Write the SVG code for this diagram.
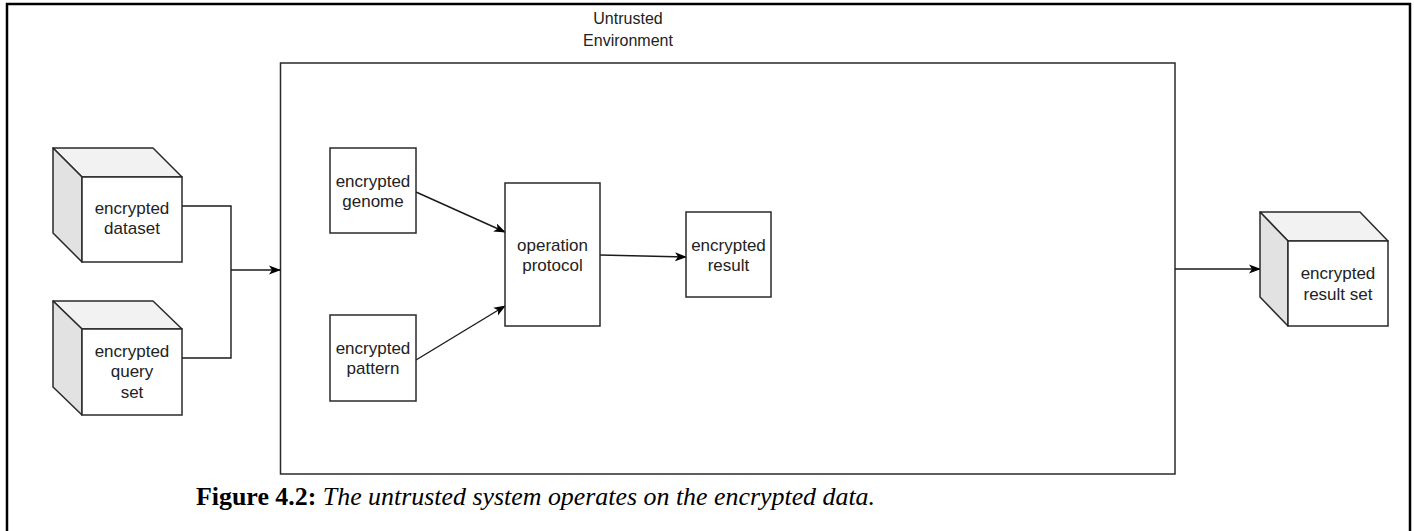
<svg xmlns="http://www.w3.org/2000/svg" width="1414" height="531" viewBox="0 0 1414 531">
  <style>
    .box { fill: #ffffff; stroke: #2a2a2a; stroke-width: 1.5; }
    .top { fill: #f2f2f2; stroke: #2a2a2a; stroke-width: 1.5; stroke-linejoin: round; }
    .side { fill: #e2e2e2; stroke: #2a2a2a; stroke-width: 1.5; stroke-linejoin: round; }
    .lbl { font-family: "Liberation Sans", Arial, sans-serif; font-size: 17px; fill: #222; text-anchor: middle; }
    .env { font-size: 16px; }
    .edge { fill: none; stroke: #1a1a1a; stroke-width: 1.4; }
    .cap { font-family: "Liberation Serif", "Times New Roman", serif; font-size: 25.9px; fill: #000; }
  </style>
  <defs>
    <marker id="arrow" viewBox="0 0 12 10" refX="11" refY="5" markerWidth="12" markerHeight="10" markerUnits="userSpaceOnUse" orient="auto">
      <path d="M0,0.5 L12,5 L0,9.5 L3,5 Z" fill="#000"/>
    </marker>
  </defs>
  <rect width="1414" height="531" fill="#ffffff"/>

  <!-- page frame -->
  <path d="M7,531 V4 H1410 V531" fill="none" stroke="#000" stroke-width="2.5"/>

  <!-- untrusted environment container -->
  <g id="environment">
    <rect class="box" x="280.5" y="63" width="894.5" height="411"/>
    <text class="lbl env" x="628" y="24">Untrusted</text>
    <text class="lbl env" x="628" y="46">Environment</text>
  </g>

  <!-- connectors -->
  <g id="connectors">
    <path class="edge" d="M182,206 H231 V358 H182"/>
    <path class="edge" d="M231,270 H280" marker-end="url(#arrow)"/>
    <path class="edge" d="M416,192 L505,232" marker-end="url(#arrow)"/>
    <path class="edge" d="M416,360 L505,306" marker-end="url(#arrow)"/>
    <path class="edge" d="M600,255 L686,257" marker-end="url(#arrow)"/>
    <path class="edge" d="M1175,269 H1260" marker-end="url(#arrow)"/>
  </g>

  <!-- encrypted dataset (cube) -->
  <g id="dataset">
    <path class="top" d="M53,148 H153 L182,177 H82 Z"/>
    <path class="side" d="M53,148 L82,177 V262 L53,233 Z"/>
    <rect class="box" x="82" y="177" width="100" height="85"/>
    <text class="lbl" x="132" y="214">encrypted</text>
    <text class="lbl" x="132" y="234">dataset</text>
  </g>

  <!-- encrypted query set (cube) -->
  <g id="queryset">
    <path class="top" d="M53,301 H153 L182,329 H82 Z"/>
    <path class="side" d="M53,301 L82,329 V415 L53,387 Z"/>
    <rect class="box" x="82" y="329" width="100" height="86"/>
    <text class="lbl" x="132" y="357">encrypted</text>
    <text class="lbl" x="132" y="377">query</text>
    <text class="lbl" x="132" y="398">set</text>
  </g>

  <!-- encrypted genome -->
  <g id="genome">
    <rect class="box" x="330" y="148" width="86" height="85"/>
    <text class="lbl" x="373" y="187">encrypted</text>
    <text class="lbl" x="373" y="207">genome</text>
  </g>

  <!-- encrypted pattern -->
  <g id="pattern">
    <rect class="box" x="330" y="315" width="86" height="86"/>
    <text class="lbl" x="373" y="354">encrypted</text>
    <text class="lbl" x="373" y="374">pattern</text>
  </g>

  <!-- operation protocol -->
  <g id="operation">
    <rect class="box" x="505" y="183" width="95" height="143"/>
    <text class="lbl" x="552.5" y="251">operation</text>
    <text class="lbl" x="552.5" y="271">protocol</text>
  </g>

  <!-- encrypted result -->
  <g id="result">
    <rect class="box" x="686" y="212" width="85" height="85"/>
    <text class="lbl" x="728.5" y="251">encrypted</text>
    <text class="lbl" x="728.5" y="271">result</text>
  </g>

  <!-- encrypted result set (cube) -->
  <g id="resultset">
    <path class="top" d="M1260,212 H1360 L1388,241 H1288 Z"/>
    <path class="side" d="M1260,212 L1288,241 V326 L1260,297 Z"/>
    <rect class="box" x="1288" y="241" width="100" height="85"/>
    <text class="lbl" x="1338" y="279">encrypted</text>
    <text class="lbl" x="1338" y="300">result set</text>
  </g>

  <!-- caption -->
  <text class="cap" x="196" y="505"><tspan font-weight="bold">Figure 4.2:</tspan><tspan font-style="italic"> The untrusted system operates on the encrypted data.</tspan></text>
</svg>
